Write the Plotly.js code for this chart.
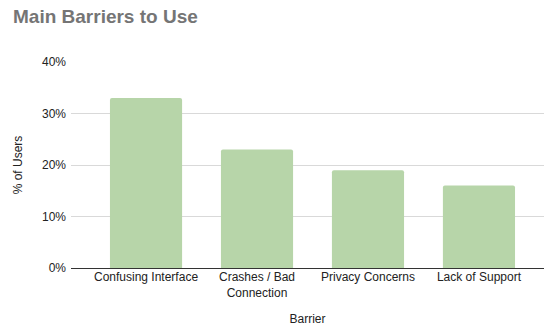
<!DOCTYPE html>
<html>
<head>
<meta charset="utf-8">
<script src="https://cdn.plot.ly/plotly-3.0.1.min.js"></script>
<style>html,body{margin:0;padding:0;background:#fff;}#chart{width:544px;height:326px;}</style>
</head>
<body>
<div id="chart"></div>
<script>
const categories = ["Confusing Interface", "Crashes / Bad<br>Connection", "Privacy Concerns", "Lack of Support"];
const values = [0.33, 0.23, 0.19, 0.16];
const yTickVals = [0, 0.1, 0.2, 0.3, 0.4];
const yTickText = ["0%", "10%", "20%", "30%", "40%"];

const font = "Liberation Sans, Arial, sans-serif";
const data = [{
  type: "bar",
  x: categories,
  y: values,
  marker: {color: "#b7d5a9", cornerradius: 2},
  hoverinfo: "skip"
}];
const layout = {
  width: 544, height: 326,
  margin: {l: 71, r: 0, t: 62, b: 58},
  paper_bgcolor: "#fff", plot_bgcolor: "#fff",
  bargap: 0.35,
  font: {family: font, size: 12, color: "#222"},
  showlegend: false,
  title: {
    text: "<b>Main Barriers to Use</b>",
    font: {family: font, size: 19, color: "#757575"},
    xref: "container", yref: "container",
    x: 13/544, xanchor: "left",
    y: 1 - 16.5/326, yanchor: "middle"
  },
  xaxis: {
    type: "category",
    range: [-0.676, 3.586],
    showgrid: false,
    showline: false,
    ticks: "",
    tickfont: {family: font, size: 12, color: "#222"},
    title: {text: "Barrier", font: {family: font, size: 12, color: "#222"}, standoff: 18},
    zeroline: false,
    fixedrange: true
  },
  yaxis: {
    range: [0, 0.4],
    tickvals: yTickVals,
    ticktext: yTickText,
    showgrid: true,
    gridcolor: "#d9d9d9",
    gridwidth: 1,
    zeroline: true,
    zerolinecolor: "#333",
    zerolinewidth: 1,
    ticks: "",
    ticklabelstandoff: 4,
    tickfont: {family: font, size: 12, color: "#222"},
    title: {text: "% of Users", font: {family: font, size: 12, color: "#222"}, standoff: 16},
    fixedrange: true
  }
};
Plotly.newPlot("chart", data, layout, {displayModeBar: false, staticPlot: true});
</script>
</body>
</html>
